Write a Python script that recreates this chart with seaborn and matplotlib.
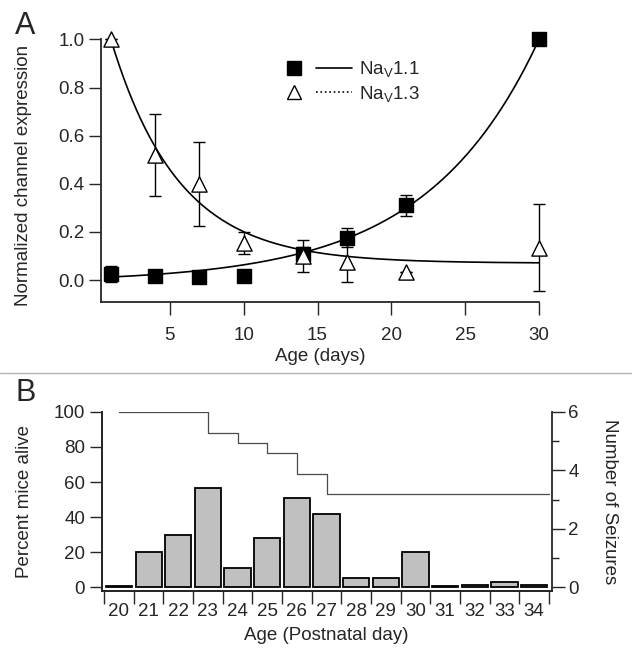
import numpy as np
import pandas as pd
import seaborn as sns
import matplotlib.pyplot as plt
from matplotlib.lines import Line2D
from matplotlib.legend_handler import HandlerTuple
from matplotlib.ticker import MultipleLocator

# Panel A: channel expression vs age
ages = [1, 4, 7, 10, 14, 17, 21, 30]
nav11 = [0.025, 0.017, 0.014, 0.017, 0.107, 0.176, 0.31, 1.0]
nav11_err = [0.032, 0, 0, 0, 0.03, 0.04, 0.045, 0]
nav13 = [1.0, 0.52, 0.40, 0.155, 0.10, 0.075, 0.035, 0.135]
nav13_err = [0, 0.17, 0.175, 0.045, 0.065, 0.085, 0, 0.18]

# exponential fit parameters (y0, A, k, x_ref)
fit11 = (-0.01, 1.01, 0.1312, 30)
fit13 = (0.07, 0.93, -0.218, 1)

# Panel B: seizures and survival per postnatal day
days = [20, 21, 22, 23, 24, 25, 26, 27, 28, 29, 30, 31, 32, 33, 34]
seizures = [0.03, 1.21, 1.8, 3.38, 0.645, 1.69, 3.06, 2.51, 0.31, 0.31, 1.21, 0.02, 0.06, 0.17, 0.07]
alive = [100, 100, 100, 88.2, 82.4, 76.5, 64.7, 52.9, 52.9, 52.9, 52.9, 52.9, 52.9, 52.9, 52.9]

sns.set_style("ticks")
plt.rcParams["font.family"] = ["Liberation Sans", "DejaVu Sans"]
plt.rcParams["mathtext.fontset"] = "custom"
plt.rcParams["mathtext.rm"] = "Liberation Sans"
plt.rcParams["mathtext.it"] = "Liberation Sans:italic"
plt.rcParams["font.size"] = 13.5

fs = 13.5
fig = plt.figure(figsize=(6.32, 6.56), dpi=100)

# ---------- Panel A ----------
ax = fig.add_axes([0.1598, 0.5401, 0.693, 0.3997])
df11 = pd.DataFrame({"age": ages, "val": nav11, "err": nav11_err})
df13 = pd.DataFrame({"age": ages, "val": nav13, "err": nav13_err})

xs = np.linspace(min(ages), max(ages), 300)
def fit_curve(p, x):
    y0, a, k, xr = p
    return y0 + a * np.exp(k * (x - xr))

sns.lineplot(x=xs, y=fit_curve(fit11, xs), ax=ax, color="black", lw=1.2)
sns.lineplot(x=xs, y=fit_curve(fit13, xs), ax=ax, color="black", lw=1.2)

for d in (df11, df13):
    eb = ax.errorbar(d["age"], d["val"], yerr=d["err"], fmt="none", ecolor="black",
                     elinewidth=1, capsize=4, capthick=1)
    for art in eb.lines[1] + eb.lines[2]:
        art.set_clip_on(False)
sns.scatterplot(data=df11, x="age", y="val", ax=ax, marker="s", s=95, color="black",
                edgecolor="black", linewidth=1, zorder=5, clip_on=False)
sns.scatterplot(data=df13, x="age", y="val", ax=ax, marker="^", s=120, color="white",
                edgecolor="black", linewidth=1, zorder=5, clip_on=False)

ax.set_xlim(0.33, 30)
ax.set_ylim(-0.09, 1.0)
ax.set_xticks([5, 10, 15, 20, 25, 30])
ax.set_yticks([0.0, 0.2, 0.4, 0.6, 0.8, 1.0])
ax.set_yticklabels([f"{v:.1f}" for v in [0.0, 0.2, 0.4, 0.6, 0.8, 1.0]])
ax.set_xlabel("Age (days)", fontsize=fs, labelpad=3)
ax.set_ylabel("Normalized channel expression", fontsize=fs)
ax.yaxis.set_label_coords(-0.157, 0.48)
sns.despine(ax=ax)
for s in ["left", "bottom"]:
    ax.spines[s].set_linewidth(1.3)
ax.tick_params(axis="x", length=9, width=1, pad=9, labelsize=fs)
ax.tick_params(axis="y", length=9, width=1, pad=3, labelsize=fs)

h11 = (Line2D([], [], marker="s", ms=9.6, color="black", ls="none"),
       Line2D([], [], color="black", lw=1.2))
h13 = (Line2D([], [], marker="^", ms=10.5, mfc="white", mec="black", ls="none"),
       Line2D([], [], color="black", lw=1.2, ls=":"))
ax.legend([h11, h13], ["Na$_\\mathrm{V}$1.1", "Na$_\\mathrm{V}$1.3"],
          handler_map={tuple: HandlerTuple(ndivide=None, pad=0.2)},
          handlelength=4.0, handletextpad=0.4, labelspacing=0.25,
          frameon=False, fontsize=fs, loc="upper left",
          bbox_to_anchor=(0.401, 0.925), borderaxespad=0, borderpad=0)

fig.text(25 / 632, 1 - 26 / 656, "A", fontsize=22, ha="center", va="center")

# separator line
fig.add_artist(Line2D([0, 1], [1 - 373 / 656] * 2, color="#b4b4b4", lw=1))

# ---------- Panel B ----------
axb = fig.add_axes([0.1609, 0.0995, 0.712, 0.2725])
axs = axb.twinx()

sns.barplot(x=days, y=seizures, ax=axs, color="#c0c0c0", saturation=1,
            edgecolor="black", linewidth=1.3, width=0.88)

pos = np.arange(len(days))
line_x = np.append(pos, pos[-1] + 0.5)
line_y = np.append(alive, alive[-1])
sns.lineplot(x=line_x, y=line_y, ax=axb, color="#4a4a4a", lw=0.9,
             drawstyle="steps-post")

axb.set_xlim(-0.58, 14.59)
axb.set_ylim(-2.1, 100)
axs.set_ylim(-2.1 * 6 / 100, 6)

axb.set_xticks(np.arange(len(days) + 1) - 0.5)
axb.set_xticklabels([])
axb.set_xticks(pos, minor=True)
axb.set_xticklabels([str(d) for d in days], minor=True)
axb.tick_params(axis="x", which="major", length=9, width=1, labelsize=fs)
axb.tick_params(axis="x", which="minor", length=0, pad=9, labelsize=fs)
axs.tick_params(axis="x", which="both", length=0, labelbottom=False)

axb.set_yticks([0, 20, 40, 60, 80, 100])
axb.tick_params(axis="y", length=9, width=1, pad=3, labelsize=fs)
axs.set_yticks([0, 2, 4, 6])
axs.yaxis.set_minor_locator(MultipleLocator(1))
axs.tick_params(axis="y", which="major", length=9, width=1, pad=3, labelsize=fs)
axs.tick_params(axis="y", which="minor", length=5, width=1)

axb.set_xlabel("Age (Postnatal day)", fontsize=fs, labelpad=5)
axb.set_ylabel("Percent mice alive", fontsize=fs)
axb.yaxis.set_label_coords(-0.153, 0.5)
axs.set_ylabel("Number of Seizures", fontsize=fs, rotation=270, labelpad=28)
axs.set_xlabel("")

for a in (axb, axs):
    a.spines["top"].set_visible(False)
    for s in ["left", "right", "bottom"]:
        a.spines[s].set_linewidth(1.3)
axb.spines["right"].set_visible(False)

fig.text(26 / 632, 1 - 393 / 656, "B", fontsize=22, ha="center", va="center")

fig.savefig("out.png", dpi=100)
